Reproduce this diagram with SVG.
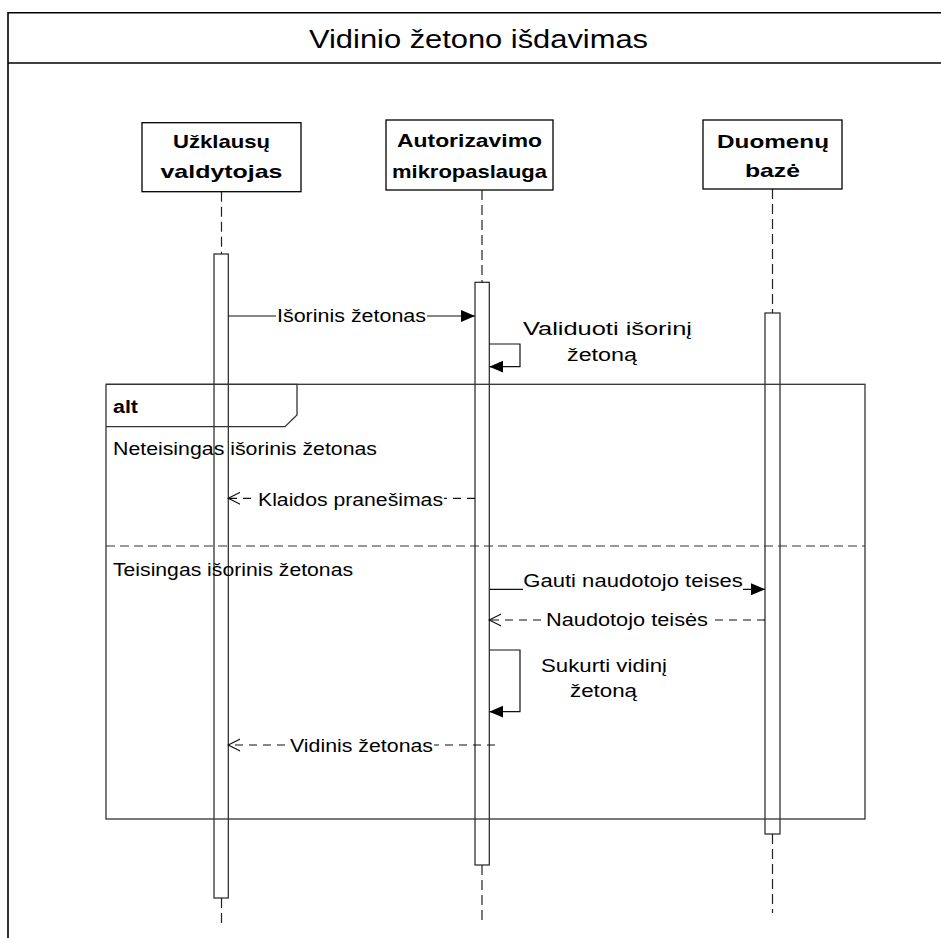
<svg xmlns="http://www.w3.org/2000/svg" width="941" height="938" viewBox="0 0 941 938">
  <style>
    .frame { fill: none; stroke: #000; stroke-width: 1.6; }
    .head { fill: #fff; stroke: #000; stroke-width: 1.3; }
    .life { fill: none; stroke: #222; stroke-width: 1.2; stroke-dasharray: 10 5; }
    .act { fill: #fff; stroke: #222; stroke-width: 1.2; }
    .alt { fill: none; stroke: #333; stroke-width: 1.3; }
    .sep { fill: none; stroke: #333; stroke-width: 1.2; stroke-dasharray: 9 5; }
    .msg { fill: none; stroke: #111; stroke-width: 1.2; }
    .ret { fill: none; stroke: #111; stroke-width: 1.2; stroke-dasharray: 8 6; }
    .bg { fill: #fff; }
    text { font-family: "Liberation Sans", Arial, sans-serif; fill: #000; }
    .title { font-size: 25px; }
    .name { font-size: 18.5px; font-weight: bold; }
    .lbl { font-size: 17.5px; }
    .kw { font-size: 18px; font-weight: bold; }
  </style>
  <defs>
    <marker id="solid" markerUnits="userSpaceOnUse" markerWidth="15" markerHeight="13" refX="14" refY="6" orient="auto">
      <path d="M0,0 L14,6 L0,12 Z" fill="#000" stroke="none"/>
    </marker>
    <marker id="open" markerUnits="userSpaceOnUse" markerWidth="14" markerHeight="14" refX="12" refY="7" orient="auto">
      <path d="M0,1 L12,7 L0,13" fill="none" stroke="#111" stroke-width="1.2" stroke-dasharray="none"/>
    </marker>
  </defs>

  <!-- outer sequence frame with title band -->
  <g id="frame">
    <path class="frame" d="M945,12.7 H8 V945"/>
    <line class="frame" x1="8" y1="63" x2="945" y2="63"/>
    <text class="title" x="309" y="48" textLength="339" lengthAdjust="spacingAndGlyphs">Vidinio žetono išdavimas</text>
  </g>

  <!-- lifeline: request handler -->
  <g id="lifeline-request-handler">
    <line class="life" x1="221.5" y1="191.7" x2="221.5" y2="254"/>
    <line class="life" x1="221.5" y1="898" x2="221.5" y2="926"/>
    <rect class="head" x="142" y="122.7" width="159" height="69"/>
    <text class="name" x="221.5" y="148.3" text-anchor="middle" textLength="97" lengthAdjust="spacingAndGlyphs">Užklausų</text>
    <text class="name" x="221.5" y="178.3" text-anchor="middle" textLength="122" lengthAdjust="spacingAndGlyphs">valdytojas</text>
    <rect class="act" x="214" y="254" width="14.3" height="644"/>
  </g>

  <!-- lifeline: authorization microservice -->
  <g id="lifeline-auth-service">
    <line class="life" x1="482" y1="190" x2="482" y2="282.3"/>
    <line class="life" x1="482" y1="865" x2="482" y2="921"/>
    <rect class="head" x="386" y="120" width="167" height="70"/>
    <text class="name" x="469.5" y="147" text-anchor="middle" textLength="145" lengthAdjust="spacingAndGlyphs">Autorizavimo</text>
    <text class="name" x="469.5" y="178" text-anchor="middle" textLength="155" lengthAdjust="spacingAndGlyphs">mikropaslauga</text>
    <rect class="act" x="475" y="282.3" width="14.3" height="582.7"/>
  </g>

  <!-- lifeline: database -->
  <g id="lifeline-database">
    <line class="life" x1="772.5" y1="189" x2="772.5" y2="313"/>
    <line class="life" x1="772.5" y1="834" x2="772.5" y2="913"/>
    <rect class="head" x="703" y="120" width="139" height="69"/>
    <text class="name" x="773" y="148.3" text-anchor="middle" textLength="112" lengthAdjust="spacingAndGlyphs">Duomenų</text>
    <text class="name" x="772.5" y="177" text-anchor="middle" textLength="55" lengthAdjust="spacingAndGlyphs">bazė</text>
    <rect class="act" x="765" y="313" width="15" height="521"/>
  </g>

  <!-- alt combined fragment with two operands -->
  <g id="alt-fragment">
    <rect class="alt" x="106" y="384.3" width="759" height="434.7"/>
    <path class="alt" d="M106,384.3 H297 V415 L285,426.7 H106"/>
    <text class="kw" x="113" y="412.7" textLength="25" lengthAdjust="spacingAndGlyphs">alt</text>
    <text class="lbl" x="113" y="455" textLength="264" lengthAdjust="spacingAndGlyphs">Neteisingas išorinis žetonas</text>
    <line class="sep" x1="106" y1="546" x2="865" y2="546"/>
    <text class="lbl" x="113" y="576" textLength="240" lengthAdjust="spacingAndGlyphs">Teisingas išorinis žetonas</text>
  </g>

  <!-- messages -->
  <g id="messages">
    <!-- external token -->
    <line class="msg" x1="228.3" y1="316" x2="475" y2="316" marker-end="url(#solid)"/>
    <rect class="bg" x="276" y="304" width="151" height="22"/>
    <text class="lbl" x="277" y="321.7" textLength="149" lengthAdjust="spacingAndGlyphs">Išorinis žetonas</text>

    <!-- validate external token (self call) -->
    <path class="msg" d="M489.3,344 H520 V366.7 H489.3" marker-end="url(#solid)"/>
    <text class="lbl" x="523" y="335" textLength="169" lengthAdjust="spacingAndGlyphs">Validuoti išorinį</text>
    <text class="lbl" x="567" y="360.5" textLength="70" lengthAdjust="spacingAndGlyphs">žetoną</text>

    <!-- error message reply -->
    <line class="ret" x1="475" y1="498.3" x2="228.3" y2="498.3" marker-end="url(#open)"/>
    <rect class="bg" x="257" y="486" width="187" height="24"/>
    <text class="lbl" x="258" y="505.7" textLength="185" lengthAdjust="spacingAndGlyphs">Klaidos pranešimas</text>

    <!-- fetch user permissions -->
    <line class="msg" x1="489.3" y1="589.3" x2="765" y2="589.3" marker-end="url(#solid)"/>
    <rect class="bg" x="523" y="570" width="220" height="24"/>
    <text class="lbl" x="523.3" y="586.7" textLength="219.4" lengthAdjust="spacingAndGlyphs">Gauti naudotojo teises</text>

    <!-- user permissions reply -->
    <line class="ret" x1="765" y1="620" x2="489.3" y2="620" marker-end="url(#open)"/>
    <rect class="bg" x="545" y="607" width="164" height="24"/>
    <text class="lbl" x="546" y="625.7" textLength="162" lengthAdjust="spacingAndGlyphs">Naudotojo teisės</text>

    <!-- create internal token (self call) -->
    <path class="msg" d="M489.3,650 H520 V711.7 H489.3" marker-end="url(#solid)"/>
    <text class="lbl" x="541" y="672" textLength="126" lengthAdjust="spacingAndGlyphs">Sukurti vidinį</text>
    <text class="lbl" x="570" y="697" textLength="67" lengthAdjust="spacingAndGlyphs">žetoną</text>

    <!-- internal token reply -->
    <line class="ret" x1="495" y1="745" x2="228.3" y2="745" marker-end="url(#open)"/>
    <rect class="bg" x="289" y="732" width="145" height="24"/>
    <text class="lbl" x="290" y="752" textLength="143" lengthAdjust="spacingAndGlyphs">Vidinis žetonas</text>
  </g>
</svg>
